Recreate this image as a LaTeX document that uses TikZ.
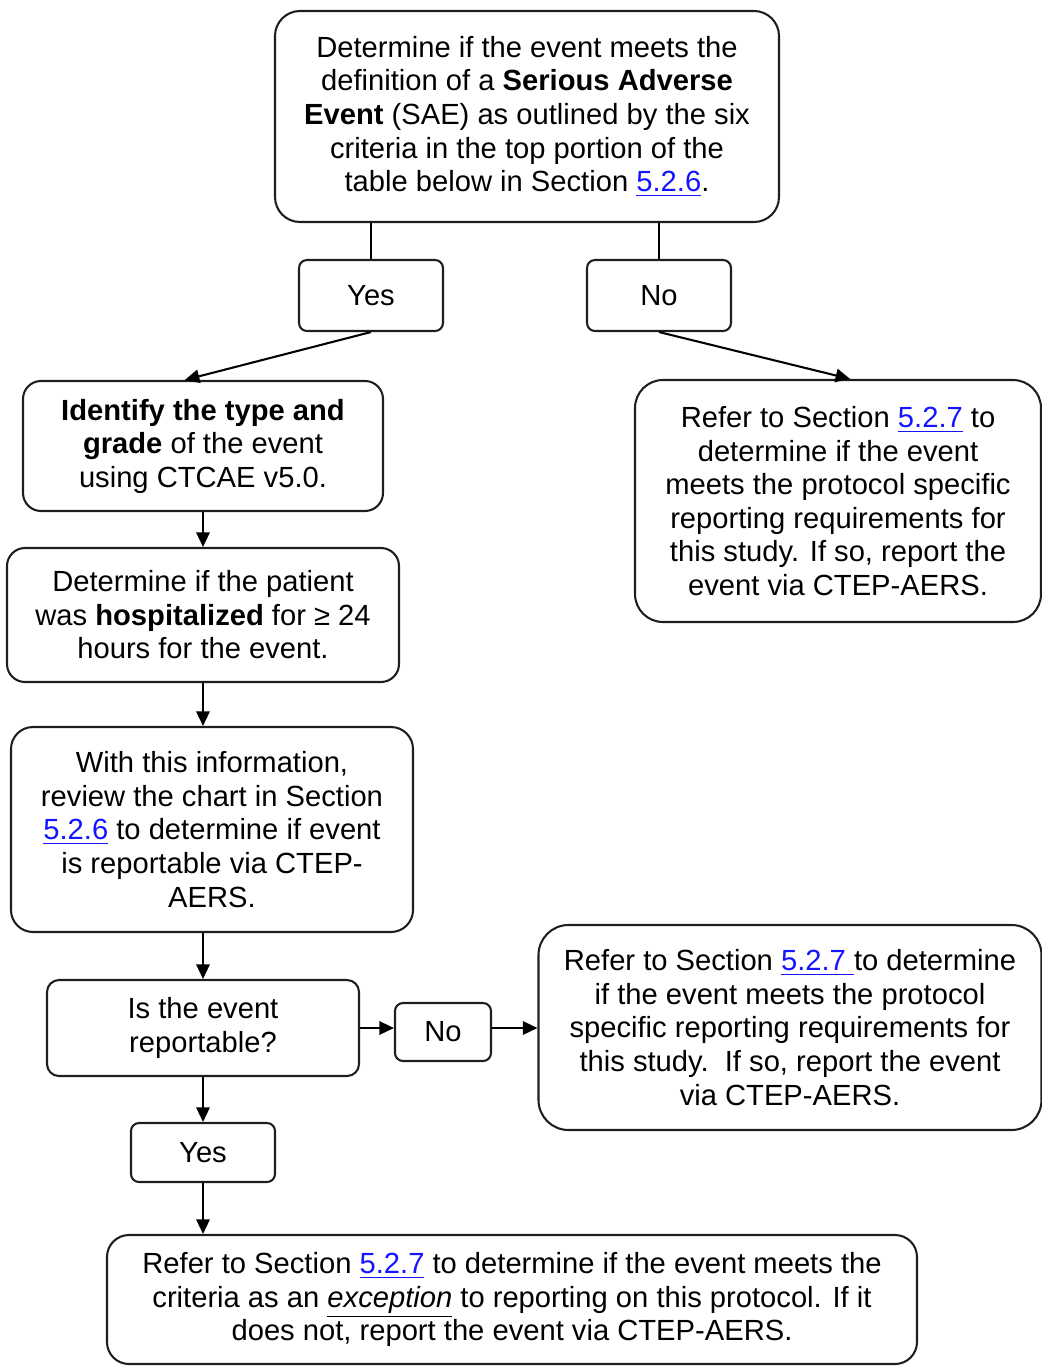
\documentclass[tikz,border=0pt]{standalone}
\usepackage{fontspec}
\setmainfont{Liberation Sans}
\usetikzlibrary{arrows.meta}
\newcommand{\lnk}[1]{\textcolor{linkblue}{\underline{#1}}}
\definecolor{linkblue}{RGB}{20,20,255}
\definecolor{edge}{RGB}{30,30,30}
\tikzset{
  box/.style={draw=edge, line width=0.85pt, align=center, inner sep=0pt,
    font=\fontsize{12}{13.8}\selectfont, text=black},
  wh/.style 2 args={minimum width=#1*0.4115pt, minimum height=#2*0.4115pt},
  rc/.style={rounded corners=#1*0.4115pt},
  link/.style={draw=black, line width=0.85pt},
  arr/.style={link, -{Triangle[length=6pt,width=5.5pt]}}
}
\begin{document}
\begin{tikzpicture}[x=0.4115pt, y=-0.4115pt]
\useasboundingbox (0,0) rectangle (1042,1366);
\clip (0,0) rectangle (1042,1366);

\node[box, wh={504}{211}, rc=25] (top) at (527,116.5)
 {Determine if the event meets the\\
  definition of a \textbf{Serious Adverse}\\
  \textbf{Event} (SAE) as outlined by the six\\
  criteria in the top portion of the\\
  table below in Section \lnk{5.2.6}.};

\node[box, wh={144}{71}, rc=8] (yes) at (371,295.5) {Yes};
\node[box, wh={144}{71}, rc=8] (no) at (659,295.5) {No};

\node[box, wh={360}{130}, rc=18] (ident) at (203,446)
 {\textbf{Identify the type and}\\
  \textbf{grade} of the event\\
  using CTCAE v5.0.};

\node[box, wh={406}{242}, rc=28] (rb1) at (838,501)
 {Refer to Section \lnk{5.2.7} to\\
  determine if the event\\
  meets the protocol specific\\
  reporting requirements for\\
  this study. If so, report the\\
  event via CTEP-AERS.};

\node[box, wh={392}{134}, rc=18] (hosp) at (203,615)
 {Determine if the patient\\
  was \textbf{hospitalized} for ≥ 24\\
  hours for the event.};

\node[box, wh={402}{205}, rc=22] (chart) at (212,829.5)
 {With this information,\\
  review the chart in Section\\
  \lnk{5.2.6} to determine if event\\
  is reportable via CTEP-\\
  AERS.};

\node[box, wh={312}{96}, rc=12] (rep) at (203,1028)
 {Is the event\\ reportable?};

\node[box, wh={96}{58}, rc=8] (no2) at (443,1032) {No};

\node[box, wh={503}{205}, rc=30] (rb2) at (790,1027.5)
 {Refer to Section \lnk{5.2.7\ }to determine\\
  if the event meets the protocol\\
  specific reporting requirements for\\
  this study.\ \ If so, report the event\\
  via CTEP-AERS.};

\node[box, wh={144}{59}, rc=8] (yes2) at (203,1152.5) {Yes};

\node[box, wh={810}{129}, rc=22] (bot) at (512,1299.5)
 {Refer to Section \lnk{5.2.7} to determine if the event meets the\\
  criteria as an \underline{\textit{exception}} to reporting on this protocol. If it\\
  does not, report the event via CTEP-AERS.};

% connectors
\draw[link] (top.south -| yes) -- (yes.north);
\draw[link] (top.south -| no) -- (no.north);
\draw[arr] (yes.south) -- ([xshift=-7.5pt]ident.north);
\draw[arr] (no.south) -- ([xshift=5pt]rb1.north);
\draw[arr] (ident.south) -- (hosp.north);
\draw[arr] (hosp.south) -- (hosp.south |- chart.north);
\draw[arr] (rep.north |- chart.south) -- (rep.north);
\draw[arr] (rep.east) -- (rep.east -| no2.west);
\draw[arr] (no2.east |- rep.east) -- (rb2.west |- rep.east);
\draw[arr] (rep.south) -- (yes2.north);
\draw[arr] (yes2.south) -- (yes2.south |- bot.north);
\end{tikzpicture}
\end{document}
